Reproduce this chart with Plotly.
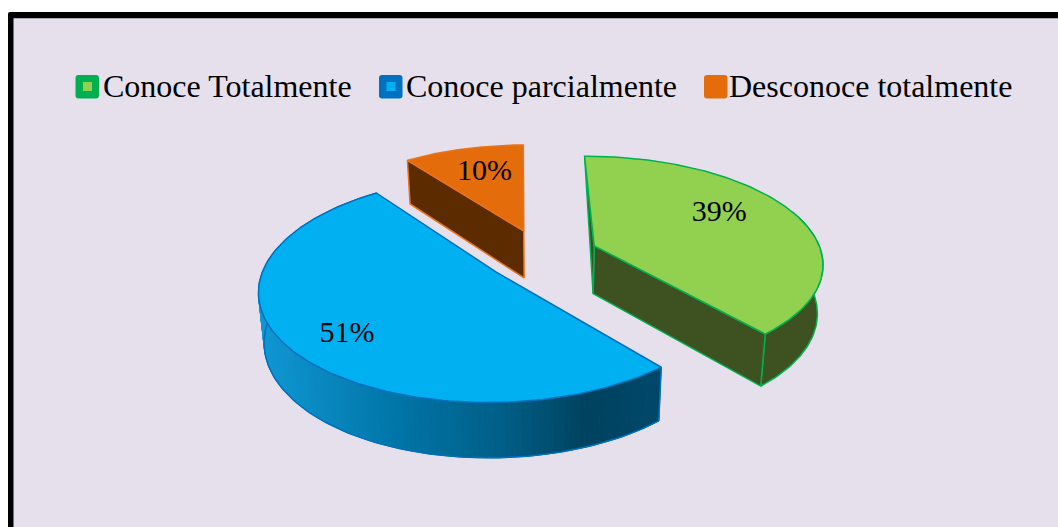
"""Grafico de torta 3D explotado: conocimiento del tema."""
import numpy as np
import plotly.graph_objects as go

CATEGORIES = ["Conoce Totalmente", "Conoce parcialmente", "Desconoce totalmente"]
VALUES = [39, 51, 10]

TOP_COLORS = ["#92d050", "#00b0f0", "#e46c0a"]
EDGE_COLORS = ["#00b050", "#0070c0", "#e8731a"]
SIDE_COLORS = ["#3d5220", None, "#5c2c00"]
SWATCH_OUTER = ["#00b050", "#0070c0", "#e46c0a"]
SWATCH_INNER = ["#92d050", "#00b0f0", "#e46c0a"]
LEGEND_X = [75.5, 379, 704]
LEGEND_TEXT_X = [101, 404, 727]

# gradiente de la pared azul, segun x en pantalla
BLUE_STOPS_X = [262, 400, 500, 585, 660]
BLUE_STOPS_RGB = [(15, 152, 212), (0, 116, 166), (0, 95, 136), (0, 66, 95), (0, 72, 106)]

START_ANGLE = -90.8
EXPLODE = 0.25
LABEL_RADIUS = [0.678, 0.771, 0.68]
LABEL_SHIFT = [-8.2, -3.6, 1.5]

# proyeccion en perspectiva del plano de la torta a pixeles
X0, Y0, SCALE_X, SCALE_Y, PERSP = 541.5, 255, 228, 105.5, 0.15
BG = "#e5e0ec"


def project(wx, wy):
    s = 1 / (1 - PERSP * wy)
    return X0 + SCALE_X * wx * s, Y0 + SCALE_Y * wy * s


def lower(x, y):
    # punto de la cara inferior, debajo de un punto de la cara superior
    return X0 + (x - X0) * 0.98, y + 36 + 0.048 * y


def slice_outline(apex, a0, a1, n=160):
    t = np.radians(np.linspace(a0, a1, n))
    return project(apex[0] + np.cos(t), apex[1] + np.sin(t))


def polygon(x, y, fill, line, width=1.5):
    return go.Scatter(
        x=list(x) + [x[0]],
        y=list(y) + [y[0]],
        mode="lines",
        fill="toself",
        fillcolor=fill,
        line=dict(color=line, width=width),
        hoverinfo="skip",
        showlegend=False,
    )


def edge_line(x, y, color):
    return go.Scatter(x=x, y=y, mode="lines", line=dict(color=color, width=1.5), hoverinfo="skip", showlegend=False)


def rounded_square(x, y, size, r):
    return (
        f"M{x + r},{y} L{x + size - r},{y} Q{x + size},{y} {x + size},{y + r} "
        f"L{x + size},{y + size - r} Q{x + size},{y + size} {x + size - r},{y + size} "
        f"L{x + r},{y + size} Q{x},{y + size} {x},{y + size - r} "
        f"L{x},{y + r} Q{x},{y} {x + r},{y} Z"
    )


fig = go.Figure()

# calcular sectores desde los valores
spans = [v / sum(VALUES) * 360 for v in VALUES]
starts = [START_ANGLE + sum(spans[:i]) for i in range(len(VALUES))]
sectors = []
for start, span in zip(starts, spans):
    mid = np.radians(start + span / 2)
    apex = (EXPLODE * np.cos(mid), EXPLODE * np.sin(mid))
    sectors.append((apex, start, start + span))

# orden de pintado: naranja (atras), verde, azul
for i in [2, 0, 1]:
    apex, a0, a1 = sectors[i]
    ax, ay = project(*apex)
    ox, oy = slice_outline(apex, a0, a1)
    bx, by = lower(ox, oy)
    abx, aby = lower(ax, ay)

    if i == 1:
        # pared exterior con degradado, en tiras
        for k in range(len(ox) - 1):
            xs = [ox[k], ox[k + 1], bx[k + 1], bx[k]]
            ys = [oy[k], oy[k + 1], by[k + 1], by[k]]
            xm = (bx[k] + bx[k + 1]) / 2
            rgb = [np.interp(xm, BLUE_STOPS_X, [c[j] for c in BLUE_STOPS_RGB]) for j in range(3)]
            color = "rgb({:.0f},{:.0f},{:.0f})".format(*rgb)
            fig.add_trace(polygon(xs, ys, color, color, 1))
        fig.add_trace(edge_line(bx, by, EDGE_COLORS[i]))
        fig.add_trace(edge_line([ox[0], bx[0]], [oy[0], by[0]], EDGE_COLORS[i]))
    elif i == 0:
        # pared exterior visible, cara final y la cara inicial casi de canto
        half = len(ox) // 2
        wall_x = np.concatenate([ox[half:], bx[half:][::-1]])
        wall_y = np.concatenate([oy[half:], by[half:][::-1]])
        fig.add_trace(polygon(wall_x, wall_y, SIDE_COLORS[i], EDGE_COLORS[i]))
        fig.add_trace(polygon([ax, ox[-1], bx[-1], abx], [ay, oy[-1], by[-1], aby], SIDE_COLORS[i], EDGE_COLORS[i]))
        fig.add_trace(polygon([ax, ox[0], abx], [ay, oy[0], aby], SIDE_COLORS[i], EDGE_COLORS[i]))
    else:
        fig.add_trace(polygon([ax, ox[0], bx[0], abx], [ay, oy[0], by[0], aby], SIDE_COLORS[i], EDGE_COLORS[i]))

    fig.add_trace(
        polygon(np.concatenate([[ax], ox]), np.concatenate([[ay], oy]), TOP_COLORS[i], EDGE_COLORS[i])
    )

# etiquetas de porcentaje
label_x, label_y = [], []
for (apex, a0, a1), radius, shift in zip(sectors, LABEL_RADIUS, LABEL_SHIFT):
    t = np.radians((a0 + a1) / 2 + shift)
    lx, ly = project(apex[0] + radius * np.cos(t), apex[1] + radius * np.sin(t))
    label_x.append(float(lx))
    label_y.append(float(ly))
fig.add_trace(
    go.Scatter(
        x=label_x,
        y=label_y,
        mode="text",
        text=[f"{v}%" for v in VALUES],
        textposition="middle center",
        textfont=dict(family="Liberation Serif", size=30, color="black"),
        hoverinfo="skip",
        showlegend=False,
    )
)

# marco y fondo
shapes = [
    dict(type="path", path=rounded_square(8, 12, 1200, 2), fillcolor="black", line_width=0, layer="below"),
    dict(type="rect", x0=13.5, y0=18.3, x1=1200, y1=900, fillcolor=BG, line_width=0, layer="below"),
]

# leyenda
annotations = []
for name, outer, inner, sx, tx in zip(CATEGORIES, SWATCH_OUTER, SWATCH_INNER, LEGEND_X, LEGEND_TEXT_X):
    shapes.append(dict(type="path", path=rounded_square(sx, 75, 23.5, 3), fillcolor=outer, line_width=0))
    shapes.append(dict(type="rect", x0=sx + 7.5, y0=82, x1=sx + 16.5, y1=91, fillcolor=inner, line_width=0))
    annotations.append(
        dict(
            x=tx,
            y=86,
            xref="x",
            yref="y",
            text=name,
            showarrow=False,
            xanchor="left",
            yanchor="middle",
            font=dict(family="Liberation Serif", size=32, color="black"),
        )
    )

fig.update_layout(
    width=1058,
    height=527,
    margin=dict(l=0, r=0, t=0, b=0),
    paper_bgcolor="white",
    plot_bgcolor="white",
    showlegend=False,
    shapes=shapes,
    annotations=annotations,
    xaxis=dict(range=[0, 1058], visible=False, fixedrange=True),
    yaxis=dict(range=[527, 0], visible=False, fixedrange=True),
)

fig.write_html(
    "out.html",
    config=dict(displayModeBar=False),
    post_script="document.body.style.margin='0';document.body.style.overflow='hidden';",
)
